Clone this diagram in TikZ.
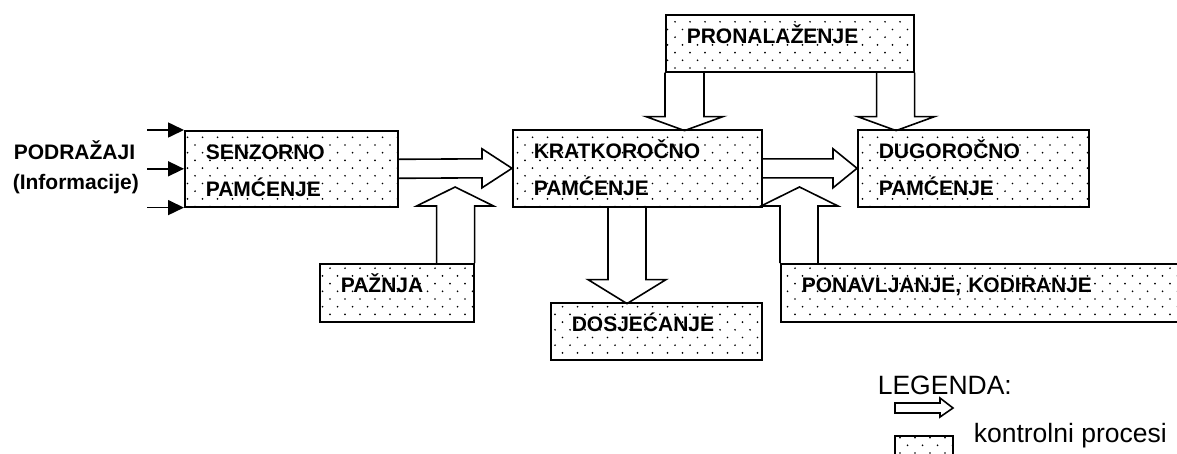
\documentclass[tikz,border=0pt]{standalone}
\usepackage{fontspec}
\setmainfont{Liberation Sans}
\usetikzlibrary{patterns,arrows.meta,calc}

\pgfdeclarepatternformonly{sparse dots}{\pgfqpoint{-1pt}{-1pt}}{\pgfqpoint{9pt}{9pt}}{\pgfqpoint{15pt}{15.4pt}}{%
  \pgfpathcircle{\pgfqpoint{0pt}{0pt}}{0.95pt}
  \pgfpathcircle{\pgfqpoint{7.5pt}{7.7pt}}{0.95pt}
  \pgfusepath{fill}}

\begin{document}
\begin{tikzpicture}[%
x=1pt, y=-1pt,
line width=1.6pt,
box/.style={draw, pattern=sparse dots, pattern color=black, anchor=north west,
  inner xsep=21pt, inner ysep=0pt, align=left, text height=29pt,
  font=\bfseries\fontsize{21}{37}\selectfont},
lbl/.style={anchor=base west, inner sep=0pt, font=\bfseries\fontsize{21}{25}\selectfont},
legtext/.style={anchor=base west, inner sep=0pt, font=\fontsize{26.5}{30}\selectfont},
input/.style={-{Triangle[length=16pt,width=15pt]}}
]
\useasboundingbox (0,0) rectangle (1177,453);
\clip (0,0) rectangle (1177,453);

\node[box, text width=171pt, text depth=47pt] (senz) at (184,130) {SENZORNO\\PAMĆENJE};
\node[box, text width=207pt, text depth=48pt] (krat) at (512,129) {KRATKOROČNO\\PAMĆENJE};
\node[box, text width=189pt, text depth=48pt] (dug) at (857,129) {DUGOROČNO\\PAMĆENJE};
\node[box, text width=206pt, text depth=28pt] (pron) at (665,14) {PRONALAŽENJE};
\node[box, text width=112pt, text depth=29pt] (paz) at (319,263) {PAŽNJA};
\node[box, text width=169pt, text depth=28pt] (dosj) at (550,302) {DOSJEĆANJE};
\node[box, text width=460pt, text depth=29pt] (pon) at (780,263) {PONAVLJANJE, KODIRANJE};

\node[lbl] (podr) at (13,159) {PODRAŽAJI};
\node[lbl] (info) at (12,189) {(Informacije)};

\draw[input] ($(senz.north west)+(-37,0)$) -- (senz.north west);
\draw[input] ($(senz.west)+(-37,0)$) -- (senz.west);
\draw[input] ($(senz.south west)+(-37,0)$) -- (senz.south west);

\draw ($(senz.east)+(0,-9.5)$) -- ($(krat.west)+(-30,-9.5)$) -- ++(0,-10) -- (krat.west)
  -- ($(krat.west)+(-30,19.5)$) -- ++(0,-10) -- ($(senz.east)+(0,9.5)$);
\draw ($(krat.east)+(0,-9.5)$) -- ($(dug.west)+(-24,-9.5)$) -- ++(0,-10) -- (dug.west)
  -- ($(dug.west)+(-24,19.5)$) -- ++(0,-10) -- ($(krat.east)+(0,9.5)$);
\draw (pron.south west) -- ++(0,44) -- ++(-19,0) -- ++(38.5,14) -- ++(38.5,-14) -- ++(-19,0) -- ++(0,-44);
\draw (pron.south east) -- ++(0,44) -- ++(20,0) -- ++(-38.5,14) -- ++(-38.5,-14) -- ++(19,0) -- ++(0,-44);
\draw (paz.north east) -- ++(0,-57) -- ++(19,0) -- ++(-38.5,-19) -- ++(-38.5,19) -- ++(20,0) -- ++(0,57);
\draw ($(krat.south west)+(96,0)$) -- ++(0,72) -- ++(-20,0) -- ++(39,24) -- ++(39,-24) -- ++(-20,0) -- ++(0,-72);
\draw (pon.north west) -- ++(0,-57) -- ++(-19,0) -- ++(38.5,-19) -- ++(38.5,19) -- ++(-20,0) -- ++(0,57);

\node[legtext] (leg) at (877,394) {LEGENDA:};
\draw (895,403) -- (940,403) -- (940,398) -- (953,408) -- (940,417) -- (940,413) -- (895,413) -- cycle;
\draw[pattern=sparse dots, pattern color=black] (895,436) rectangle (953,480);
\node[legtext] (kontr) at (973,442) {kontrolni procesi};

\end{tikzpicture}
\end{document}
